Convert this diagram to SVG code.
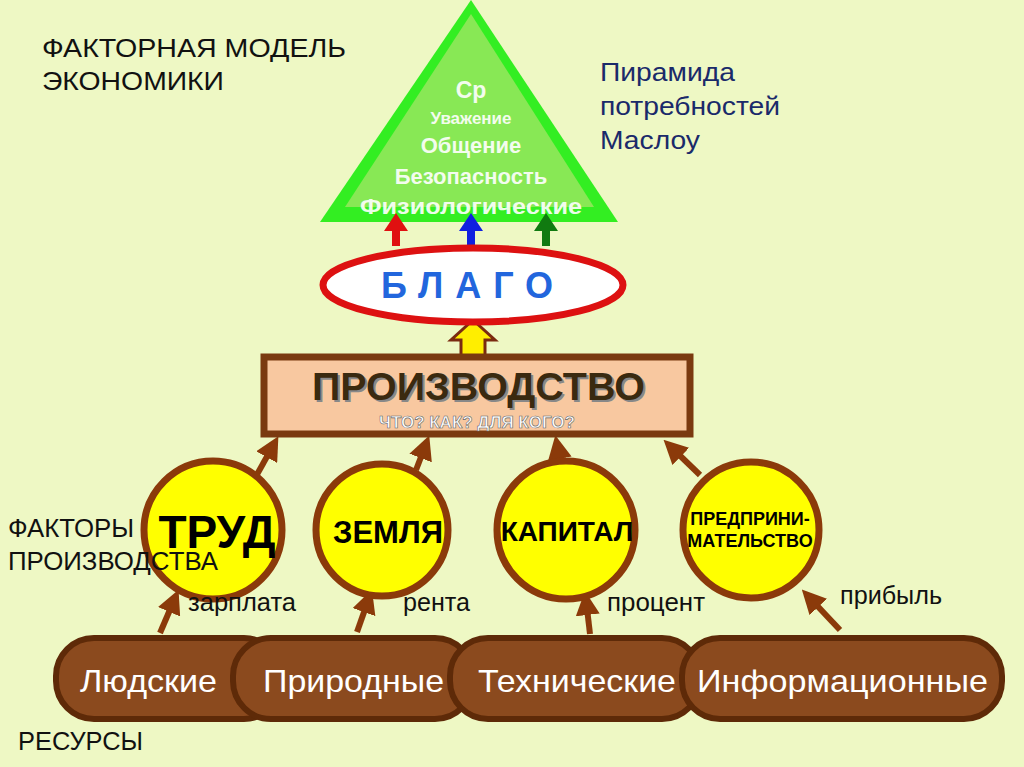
<svg xmlns="http://www.w3.org/2000/svg" width="1024" height="767" viewBox="0 0 1024 767">
<style>
text{font-family:"Liberation Sans",Arial,sans-serif}
.lbl{font-size:25px;fill:#111}
.circ{fill:#ffff00;stroke:#8b3a0a;stroke-width:7}
.pill{fill:#8b4a1e;stroke:#5e2a08;stroke-width:6}
.pt{font-size:32px;fill:#fff}
.ct{font-weight:bold;fill:#000;text-anchor:middle}
.br{stroke:#8b3a0a;stroke-width:6;fill:none;marker-end:url(#ah)}
.pyr{fill:#fff;font-weight:bold;text-anchor:middle;opacity:0.9}
</style>
<defs>
<marker id="ah" markerWidth="4" markerHeight="4" refX="2.5" refY="2" orient="auto"><path d="M0,0L4,2L0,4z" fill="#8b3a0a"/></marker>
</defs>
<rect width="1024" height="767" fill="#eef8c4"/>
<text class="lbl" x="42" y="57" textLength="304" lengthAdjust="spacingAndGlyphs">ФАКТОРНАЯ МОДЕЛЬ</text>
<text class="lbl" x="42" y="90" textLength="182" lengthAdjust="spacingAndGlyphs">ЭКОНОМИКИ</text>
<g fill="#1a2a6a" font-size="26"><text x="600" y="81" textLength="135" lengthAdjust="spacingAndGlyphs">Пирамида</text><text x="600" y="115" textLength="180" lengthAdjust="spacingAndGlyphs">потребностей</text><text x="600" y="149" textLength="100" lengthAdjust="spacingAndGlyphs">Маслоу</text></g>
<text class="lbl" x="18" y="750" textLength="125" lengthAdjust="spacingAndGlyphs">РЕСУРСЫ</text>
<g id="pyramid">
<polygon points="471,0 320,222 618,222" fill="#33ee22"/>
<polygon points="471,14 345,207 594,207" fill="#88e855"/>
<text class="pyr" x="471" y="98" font-size="23">Ср</text>
<text class="pyr" x="471" y="124" font-size="17">Уважение</text>
<text class="pyr" x="471" y="153" font-size="22">Общение</text>
<text class="pyr" x="471" y="184" font-size="22">Безопасность</text>
<text class="pyr" x="471" y="214" font-size="22" textLength="222" lengthAdjust="spacingAndGlyphs">Физиологические</text>
</g>
<g id="connectors">
<path d="M396,246V230" stroke="#e01010" stroke-width="8"/><polygon points="384,231 396,213 408,231" fill="#e01010"/>
<path d="M471,246V230" stroke="#1020e0" stroke-width="8"/><polygon points="459,231 471,213 483,231" fill="#1020e0"/>
<path d="M546,246V230" stroke="#107a10" stroke-width="8"/><polygon points="534,231 546,213 558,231" fill="#107a10"/>
<polygon points="461,358 461,340 451,340 473,320 495,340 485,340 485,358" fill="#ffee00" stroke="#7a2a10" stroke-width="3"/>
<path class="br" d="M255,478L274,444"/>
<path class="br" d="M416,470L426,444"/>
<path class="br" d="M561,465L557,444"/>
<path class="br" d="M700,475L670,446"/>
<path class="br" d="M160,633L175,598"/>
<path class="br" d="M357,632L369,598"/>
<path class="br" d="M590,634L586,600"/>
<path class="br" d="M840,630L808,596"/>
</g>
<g id="blago">
<ellipse cx="473" cy="285" rx="150" ry="37" fill="#fff" stroke="#dd1111" stroke-width="7"/>
<text x="473" y="298" font-size="36" font-weight="bold" fill="#2266dd" text-anchor="middle" letter-spacing="12">БЛАГО</text>
</g>
<g id="proizvodstvo">
<rect x="264" y="357" width="426" height="77" fill="#f8c8a0" stroke="#7a3a10" stroke-width="7"/>
<text x="314" y="402" font-size="38" font-weight="bold" fill="#888" textLength="333" lengthAdjust="spacingAndGlyphs">ПРОИЗВОДСТВО</text>
<text x="312" y="400" font-size="38" font-weight="bold" fill="#3a2a10" textLength="333" lengthAdjust="spacingAndGlyphs">ПРОИЗВОДСТВО</text>
<text x="477" y="428" font-size="17" font-weight="bold" fill="#fff" stroke="#666" stroke-width="0.6" text-anchor="middle">ЧТО?  КАК?  ДЛЯ КОГО?</text>
</g>
<g id="trud"><circle class="circ" cx="213" cy="530" r="69"/><text class="ct" x="217" y="548" font-size="46">ТРУД</text></g>
<g id="zemlya"><circle class="circ" cx="382" cy="530" r="66"/><text class="ct" x="388" y="543" font-size="31">ЗЕМЛЯ</text></g>
<g id="kapital"><circle class="circ" cx="566" cy="530" r="69"/><text class="ct" x="567" y="541" font-size="28">КАПИТАЛ</text></g>
<g id="predpr"><circle class="circ" cx="751" cy="530" r="68"/><text class="ct" x="750" y="525" font-size="18">ПРЕДПРИНИ-</text><text class="ct" x="750" y="547" font-size="18">МАТЕЛЬСТВО</text></g>
<text class="lbl" x="8" y="537" textLength="126" lengthAdjust="spacingAndGlyphs">ФАКТОРЫ</text>
<text class="lbl" x="8" y="570" textLength="210" lengthAdjust="spacingAndGlyphs">ПРОИЗВОДСТВА</text>
<g class="lbl" font-size="23"><text x="188" y="611" textLength="108" lengthAdjust="spacingAndGlyphs">зарплата</text><text x="403" y="611" textLength="67" lengthAdjust="spacingAndGlyphs">рента</text><text x="607" y="611" textLength="98" lengthAdjust="spacingAndGlyphs">процент</text><text x="840" y="604" textLength="102" lengthAdjust="spacingAndGlyphs">прибыль</text></g>
<g id="res-lyud"><rect class="pill" x="56" y="638" width="226" height="81" rx="38"/><text class="pt" x="80" y="692" textLength="137" lengthAdjust="spacingAndGlyphs">Людские</text></g>
<g id="res-prir"><rect class="pill" x="233" y="638" width="240" height="81" rx="38"/><text class="pt" x="263" y="692" textLength="181" lengthAdjust="spacingAndGlyphs">Природные</text></g>
<g id="res-tech"><rect class="pill" x="450" y="638" width="250" height="81" rx="38"/><text class="pt" x="478" y="692" textLength="198" lengthAdjust="spacingAndGlyphs">Технические</text></g>
<g id="res-info"><rect class="pill" x="682" y="638" width="320" height="81" rx="38"/><text class="pt" x="697" y="692" textLength="291" lengthAdjust="spacingAndGlyphs">Информационные</text></g>
</svg>
